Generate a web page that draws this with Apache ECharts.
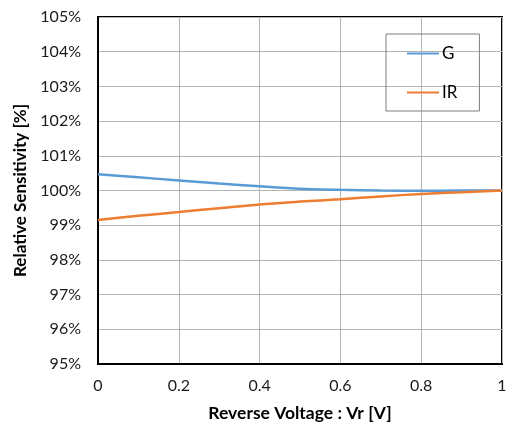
<!DOCTYPE html>
<html>
<head>
<meta charset="utf-8">
<script src="https://cdn.jsdelivr.net/npm/echarts@6/dist/echarts.min.js"></script>
<style>html,body{margin:0;padding:0;background:#fff}#c{width:508px;height:427px}</style>
</head>
<body>
<div id="c"></div>
<script>
const voltages = [0, 0.1, 0.2, 0.3, 0.4, 0.5, 0.6, 0.7, 0.8, 0.9, 1.0];
const gValues = [100.47, 100.38, 100.29, 100.20, 100.12, 100.05, 100.02, 100.00, 99.99, 100.00, 100.00];
const irValues = [99.15, 99.27, 99.38, 99.49, 99.60, 99.68, 99.75, 99.83, 99.90, 99.95, 100.00];
const seriesNames = ['G', 'IR'];
const yTicks = { min: 95, max: 105, interval: 1 };
const xTicks = { min: 0, max: 1, interval: 0.2 };

const font = 'Lato, "Open Sans", sans-serif';
const chart = echarts.init(document.getElementById('c'), null, { renderer: 'canvas' });
const pair = (xs, ys) => xs.map((x, i) => [x, ys[i]]);
chart.setOption({
  animation: false,
  backgroundColor: '#fff',
  textStyle: { fontFamily: font },
  grid: { left: 98, right: 6, top: 17, bottom: 63, containLabel: false, outerBoundsMode: 'none',
          show: true, borderColor: '#000', borderWidth: 2, backgroundColor: 'transparent' },
  legend: {
    orient: 'vertical', left: 386, top: 34,
    padding: [11, 22, 10, 21],
    itemGap: 22,
    itemWidth: 32, itemHeight: 2, icon: 'rect',
    borderColor: '#7f7f7f', borderWidth: 1,
    textStyle: { fontSize: 17, color: '#000', fontFamily: font, padding: [0, 0, 0, -2] },
    data: seriesNames
  },
  xAxis: {
    type: 'value', min: xTicks.min, max: xTicks.max, interval: xTicks.interval,
    name: 'Reverse Voltage : Vr [V]', nameLocation: 'middle', nameGap: 40,
    nameTextStyle: { fontSize: 17.5, fontWeight: 'bold', color: '#000', fontFamily: font },
    axisLine: { show: true, lineStyle: { color: '#000', width: 2 } },
    axisTick: { show: false },
    axisLabel: { fontSize: 16, color: '#1a1a1a', margin: 14, formatter: v => String(Math.round(v * 10) / 10) },
    splitLine: { show: true, lineStyle: { color: '#b4b4b4', width: 1 } }
  },
  yAxis: {
    type: 'value', min: yTicks.min, max: yTicks.max, interval: yTicks.interval,
    name: 'Relative Sensitivity [%]', nameLocation: 'middle', nameGap: 65,
    nameTextStyle: { fontSize: 17, fontWeight: 'bold', color: '#000', fontFamily: font },
    axisLine: { show: true, lineStyle: { color: '#000', width: 2 } },
    axisTick: { show: false },
    axisLabel: { fontSize: 16, color: '#1a1a1a', margin: 17, formatter: v => Math.round(v) + '%' },
    splitLine: { show: true, lineStyle: { color: '#b4b4b4', width: 1 } }
  },
  series: [
    { name: seriesNames[0], type: 'line', data: pair(voltages, gValues), smooth: 0.3, showSymbol: false, symbol: 'none',
      lineStyle: { color: '#5B9BD5', width: 2.5 }, itemStyle: { color: '#5B9BD5' } },
    { name: seriesNames[1], type: 'line', data: pair(voltages, irValues), smooth: 0.3, showSymbol: false, symbol: 'none',
      lineStyle: { color: '#ED7D31', width: 2.5 }, itemStyle: { color: '#ED7D31' } }
  ]
});
</script>
</body>
</html>
